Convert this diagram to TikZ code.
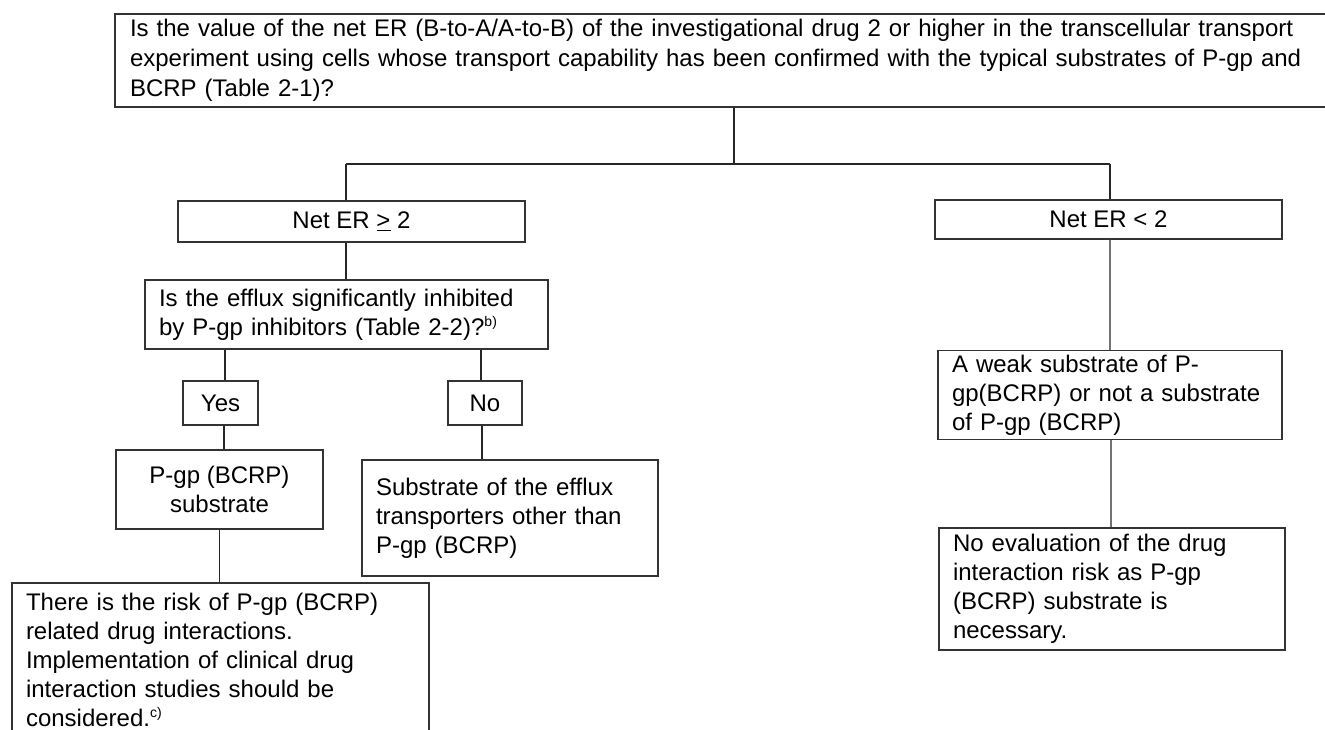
\documentclass[tikz,border=0pt]{standalone}
\usepackage{fontspec}
\setmainfont{Liberation Sans}
\begin{document}
\begin{tikzpicture}[x=1pt,y=-1pt,
  every node/.style={font=\fontsize{24}{29}\selectfont},
  box/.style={draw=black!80, line width=1.3pt, rectangle, inner xsep=14pt, inner ysep=0pt, align=left},
  cbox/.style={draw=black!80, line width=1.3pt, rectangle, inner sep=0pt, align=center},
  conn/.style={draw=black!85, line width=1.2pt},
  gconn/.style={draw=black!55, line width=1.4pt}]
\useasboundingbox (0,0) rectangle (1325,729);
\clip (0,0) rectangle (1325,729);
\newcommand{\supnote}[1]{\raisebox{9pt}{\fontsize{14}{14}\selectfont #1}}
% boxes
\node[box, inner xsep=15pt, minimum width=1230pt, minimum height=93pt, text width=1200pt,
      font=\fontsize{24}{30}\selectfont] (top) at (730,60.5)
  {\makebox[1157pt][s]{Is the value of the net ER (B-to-A/A-to-B) of the investigational drug 2 or higher in the transcellular transport}\\
   \makebox[1170pt][s]{experiment using cells whose transport capability has been confirmed with the typical substrates of P-gp and}\\
   BCRP (Table 2-1)?};
\node[cbox, minimum width=347pt, minimum height=41pt] (ge) at (351.5,221.5) {Net ER \underline{>} 2};
\node[box, minimum width=403pt, minimum height=69pt, text width=375pt] (q) at (346.5,314.5)
  {Is the efflux significantly inhibited\\ by P-gp inhibitors (Table 2-2)?\supnote{b)}};
\node[cbox, minimum width=75pt, minimum height=44pt] (yes) at (220.5,403) {Yes};
\node[cbox, minimum width=74pt, minimum height=44pt] (no) at (485,403) {No};
\node[cbox, minimum width=207pt, minimum height=79pt] (pgp) at (219.5,489.5) {P-gp (BCRP)\\ substrate};
\node[box, minimum width=296pt, minimum height=116pt, text width=268pt] (eff) at (510,518)
  {Substrate of the efflux\\ transporters other than\\ P-gp (BCRP)};
\node[box, minimum width=417pt, minimum height=153pt, text width=389pt] (risk) at (220.5,659.5)
  {There is the risk of P-gp (BCRP)\\ related drug interactions.\\ Implementation of clinical drug\\ interaction studies should be\\ considered.\supnote{c)}};
\node[cbox, minimum width=347pt, minimum height=39pt] (lt) at (1108.5,219.5) {Net ER < 2};
\node[box, minimum width=344pt, minimum height=89pt, text width=316pt] (weak) at (1110,395)
  {A weak substrate of P-\\ gp(BCRP) or not a substrate\\ of P-gp (BCRP)};
\node[box, minimum width=346pt, minimum height=122pt, text width=318pt] (noev) at (1112,589)
  {No evaluation of the drug\\ interaction risk as P-gp\\ (BCRP) substrate is\\ necessary.};
% junction coordinates
\coordinate (jc) at (734,164);
\coordinate (jl) at (346,164);
\coordinate (jr) at (1110,164);
% connectors
\draw[conn] (top.south -| jc) -- (jc);
\draw[conn] (jl) -- (jr);
\draw[conn] (jl) -- (jl |- ge.north);
\draw[conn] (ge.south -| jl) -- (q.north -| jl);
\draw[conn] ([xshift=4.5pt]yes.north) -- ([xshift=4.5pt]yes.north |- q.south);
\draw[conn] ([xshift=-4pt]no.north) -- ([xshift=-4pt]no.north |- q.south);
\draw[conn] ([xshift=3.5pt]yes.south) -- ([xshift=3.5pt]yes.south |- pgp.north);
\draw[conn] ([xshift=-3pt]no.south) -- ([xshift=-3pt]no.south |- eff.north);
\draw[conn] (pgp.south) -- (pgp.south |- risk.north);
\draw[conn] (jr) -- (jr |- lt.north);
\draw[gconn] (lt.south -| jr) -- (weak.north -| jr);
\draw[gconn] ([xshift=1pt]weak.south) -- ([xshift=1pt]weak.south |- noev.north);
\end{tikzpicture}
\end{document}
